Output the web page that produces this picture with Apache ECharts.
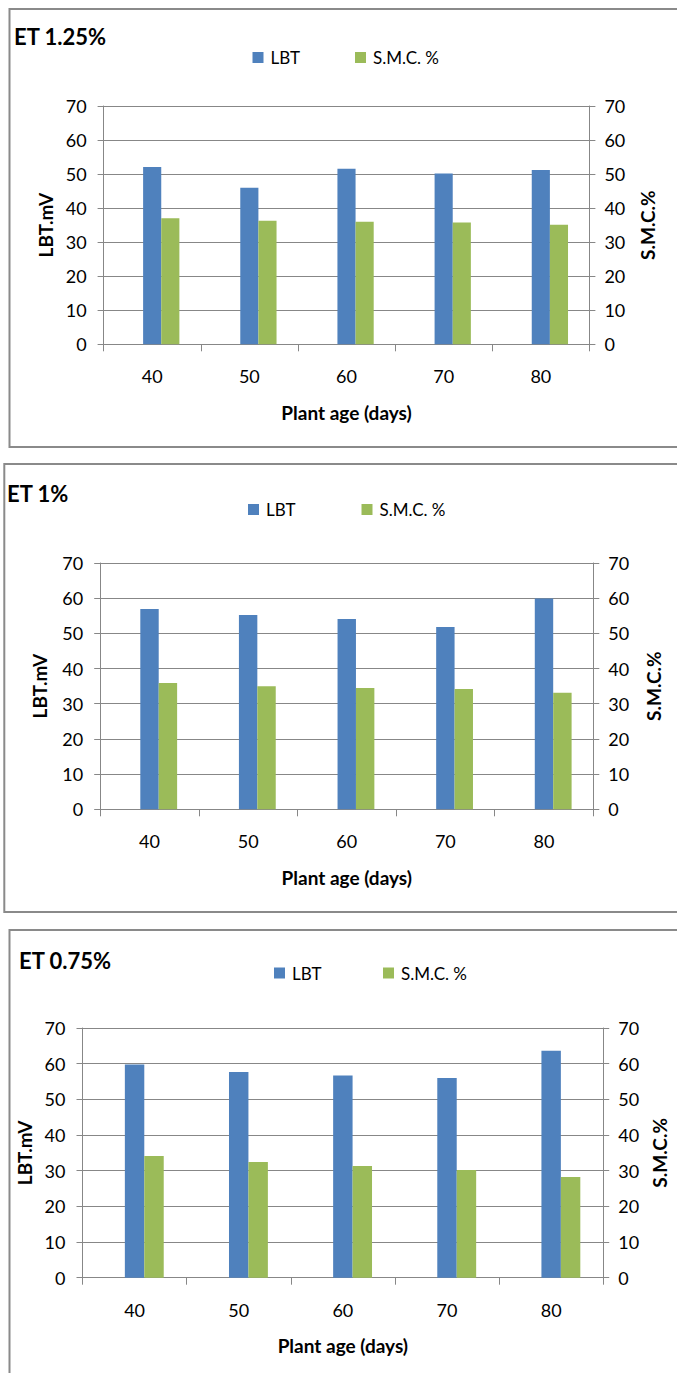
<!DOCTYPE html>
<html>
<head>
<meta charset="utf-8">
<script src="https://cdn.jsdelivr.net/npm/echarts@6/dist/echarts.min.js"></script>
<style>
html,body{margin:0;padding:0;background:#fff;}
#chart{width:677px;height:1373px;}
</style>
</head>
<body>
<div id="chart"></div>
<script>
// ---- data ----
const categories = ['40', '50', '60', '70', '80'];
const panelTitles = ['ET 1.25%', 'ET 1%', 'ET 0.75%'];
const seriesNames = ['LBT', 'S.M.C. %'];
const lbt125 = [52.1, 46.0, 51.6, 50.2, 51.2];
const smc125 = [37.0, 36.3, 36.0, 35.8, 35.1];
const lbt100 = [56.9, 55.2, 54.1, 51.8, 59.9];
const smc100 = [35.9, 35.0, 34.5, 34.2, 33.1];
const lbt075 = [59.8, 57.7, 56.7, 56.0, 63.6];
const smc075 = [34.1, 32.4, 31.3, 30.2, 28.2];
const yMin = 0, yMax = 70, yStep = 10;
const xAxisTitle = 'Plant age (days)';
const leftAxisTitle = 'LBT.mV';
const rightAxisTitle = 'S.M.C.%';

// ---- layout ----
const FONT = 'Lato, "Open Sans", sans-serif';
const BLUE = '#4F81BD', GREEN = '#9BBB59', GRID = '#878787', TXT = '#000';
const panels = [
  {lbt: lbt125, smc: smc125, title: panelTitles[0],
   grid: {left: 103.6, top: 106, width: 485.8, height: 238.3},
   titleX: 14, titleY: 36, legY: 58, legX1: 252.5, legX2: 355,
   box: {x: 9.5, y: 9, w: 700, h: 438},
   lGap: 49, rGap: 49, xGap: 59},
  {lbt: lbt100, smc: smc100, title: panelTitles[1],
   grid: {left: 100.2, top: 563, width: 493.1, height: 246.3},
   titleX: 7, titleY: 493.5, legY: 510, legX1: 248, legX2: 361.5,
   box: {x: 4.3, y: 464, w: 700, h: 448},
   lGap: 51, rGap: 51, xGap: 59},
  {lbt: lbt075, smc: smc075, title: panelTitles[2],
   grid: {left: 82.5, top: 1028, width: 526.7, height: 249.7},
   titleX: 19, titleY: 960, legY: 973.5, legX1: 274, legX2: 383,
   box: {x: 9.5, y: 930, w: 700, h: 480},
   lGap: 45, rGap: 46, xGap: 58}
];

const option = {
  animation: false,
  backgroundColor: '#fff',
  textStyle: {fontFamily: FONT},
  grid: [], xAxis: [], yAxis: [], series: [], legend: [], graphic: []
};

panels.forEach((p, i) => {
  option.grid.push(Object.assign({containLabel: false}, p.grid));
  option.xAxis.push({
    type: 'category', gridIndex: i, data: categories,
    axisLine: {lineStyle: {color: GRID, width: 1}},
    axisTick: {show: true, length: 7, lineStyle: {color: GRID}},
    axisLabel: {color: TXT, fontSize: 18, fontFamily: FONT, margin: 23},
    name: xAxisTitle, nameLocation: 'middle', nameGap: p.xGap,
    nameTextStyle: {color: TXT, fontSize: 19, fontWeight: 'bold', fontFamily: FONT}
  });
  const yBase = {
    type: 'value', gridIndex: i, min: yMin, max: yMax, interval: yStep,
    axisLine: {show: true, lineStyle: {color: GRID, width: 1}},
    axisTick: {show: true, length: 6, lineStyle: {color: GRID}},
    nameLocation: 'middle', nameRotate: 90,
    nameTextStyle: {color: TXT, fontSize: 19, fontWeight: 'bold', fontFamily: FONT}
  };
  option.yAxis.push(Object.assign({}, yBase, {
    position: 'left', name: leftAxisTitle, nameGap: p.lGap,
    splitLine: {show: true, lineStyle: {color: GRID, width: 1}},
    axisLabel: {color: TXT, fontSize: 18, fontFamily: FONT, margin: 17}
  }));
  option.yAxis.push(Object.assign({}, yBase, {
    position: 'right', name: rightAxisTitle, nameGap: p.rGap,
    splitLine: {show: false},
    axisLabel: {color: TXT, fontSize: 18, fontFamily: FONT, margin: 15}
  }));
  const barCommon = {type: 'bar', xAxisIndex: i, barGap: '0%', barCategoryGap: '44%'};
  // placeholder slot (empty) that the original chart reserves left of the two bars
  option.series.push(Object.assign({}, barCommon, {
    name: 'blank', yAxisIndex: 2 * i, data: categories.map(() => null)
  }));
  option.series.push(Object.assign({}, barCommon, {
    name: seriesNames[0], yAxisIndex: 2 * i, data: p.lbt, itemStyle: {color: BLUE}
  }));
  option.series.push(Object.assign({}, barCommon, {
    name: seriesNames[1], yAxisIndex: 2 * i + 1, data: p.smc, itemStyle: {color: GREEN}
  }));
  [[seriesNames[0], p.legX1], [seriesNames[1], p.legX2]].forEach(([nm, lx]) => {
    option.legend.push({
      data: [nm], left: lx, top: p.legY - 9, padding: 0, itemWidth: 11, itemHeight: 11,
      icon: 'rect', selectedMode: false,
      textStyle: {color: TXT, fontSize: 17, fontFamily: FONT, padding: [0, 0, 0, 2]}
    });
  });
  option.graphic.push({
    type: 'rect', shape: {x: p.box.x, y: p.box.y, width: p.box.w, height: p.box.h},
    style: {fill: 'none', stroke: '#8a8a8a', lineWidth: 2}, silent: true, z: -1
  });
  option.graphic.push({
    type: 'text', x: p.titleX, y: p.titleY,
    style: {text: p.title, fill: TXT, font: 'bold 22px ' + FONT, textVerticalAlign: 'middle'}
  });
});

const chart = echarts.init(document.getElementById('chart'), null, {renderer: 'svg'});
chart.setOption(option);
</script>
</body>
</html>
